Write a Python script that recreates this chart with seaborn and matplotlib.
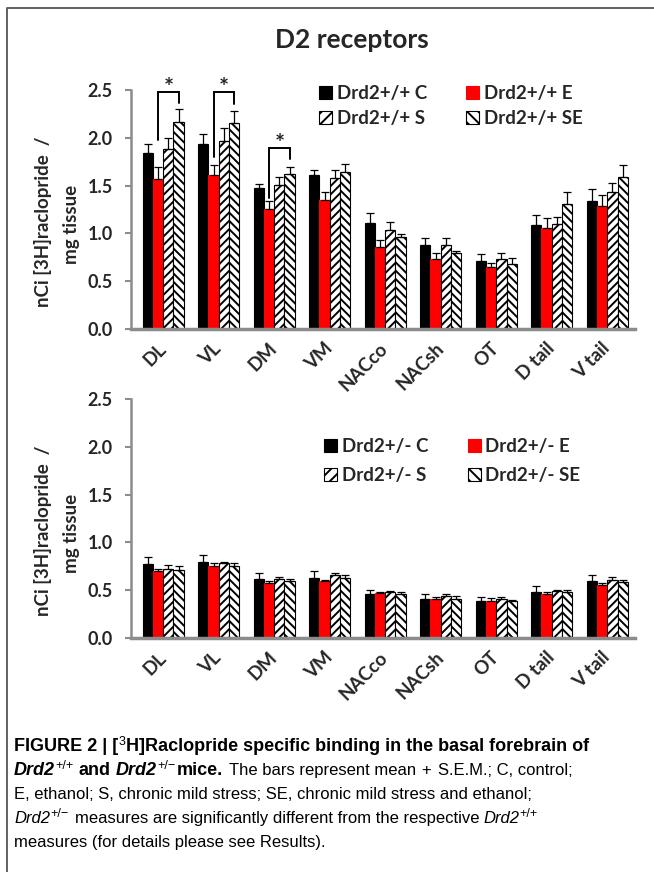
import matplotlib
matplotlib.use("Agg")
import matplotlib.pyplot as plt
from matplotlib.lines import Line2D
from matplotlib.patches import Patch
import seaborn as sns
import pandas as pd
import numpy as np

# ---------------- data ----------------
regions = ["DL", "VL", "DM", "VM", "NACco", "NACsh", "OT", "D tail", "V tail"]
groups = ["C", "E", "S", "SE"]

wt_C = [1.84, 1.94, 1.47, 1.61, 1.11, 0.88, 0.71, 1.09, 1.34]
wt_E = [1.57, 1.61, 1.26, 1.35, 0.86, 0.73, 0.65, 1.06, 1.29]
wt_S = [1.88, 1.97, 1.51, 1.58, 1.04, 0.88, 0.73, 1.10, 1.43]
wt_SE = [2.17, 2.16, 1.62, 1.64, 0.96, 0.80, 0.68, 1.31, 1.59]
wt_C_err = [0.10, 0.10, 0.05, 0.05, 0.10, 0.07, 0.07, 0.10, 0.12]
wt_E_err = [0.12, 0.11, 0.08, 0.08, 0.07, 0.06, 0.04, 0.10, 0.11]
wt_S_err = [0.12, 0.13, 0.08, 0.08, 0.08, 0.07, 0.06, 0.07, 0.10]
wt_SE_err = [0.13, 0.12, 0.07, 0.09, 0.03, 0.02, 0.06, 0.12, 0.13]

het_C = [0.77, 0.80, 0.62, 0.63, 0.46, 0.41, 0.39, 0.48, 0.60]
het_E = [0.70, 0.75, 0.58, 0.60, 0.47, 0.41, 0.39, 0.46, 0.55]
het_S = [0.72, 0.78, 0.62, 0.66, 0.48, 0.44, 0.41, 0.49, 0.61]
het_SE = [0.71, 0.75, 0.60, 0.63, 0.46, 0.41, 0.39, 0.48, 0.59]
het_C_err = [0.08, 0.07, 0.06, 0.07, 0.04, 0.05, 0.04, 0.06, 0.06]
het_E_err = [0.02, 0.03, 0.02, 0.01, 0.01, 0.02, 0.03, 0.02, 0.03]
het_S_err = [0.04, 0.02, 0.02, 0.02, 0.01, 0.02, 0.02, 0.01, 0.03]
het_SE_err = [0.04, 0.03, 0.02, 0.03, 0.02, 0.03, 0.01, 0.02, 0.02]

# significance brackets (top panel): region index, bracket height, left/right leg bottoms
sig_region = [0, 1, 2]
sig_top = [2.48, 2.48, 1.89]
sig_left_bottom = [1.98, 1.80, 1.37]
sig_right_bottom = [2.36, 2.35, 1.78]

yticks = [0.0, 0.5, 1.0, 1.5, 2.0, 2.5]
title = "D2 receptors"
ylabel_lines = ["nCi [3H]raclopride  /", "mg tissue"]
wt_labels = ["Drd2+/+ C", "Drd2+/+ E", "Drd2+/+ S", "Drd2+/+ SE"]
het_labels = ["Drd2+/- C", "Drd2+/- E", "Drd2+/- S", "Drd2+/- SE"]

# ---------------- style ----------------
sns.set_theme(style="white")
plt.rcParams["font.family"] = ["Lato", "DejaVu Sans"]
plt.rcParams["hatch.linewidth"] = 1.4
plt.rcParams["hatch.color"] = "black"

face = {"C": "black", "E": "#ff0000", "S": "white", "SE": "white"}
edge = {"C": "black", "E": "#ff0000", "S": "black", "SE": "black"}
hatch = {"C": None, "E": None, "S": "////", "SE": "\\\\\\\\"}

W, H = 654, 872
fig = plt.figure(figsize=(W / 100, H / 100), dpi=100)


def fx(px):
    return px / W


def fy(py):
    return 1 - py / H


def make_df(vals, errs):
    rows = []
    for g, v, e in zip(groups, vals, errs):
        for r, vv, ee in zip(regions, v, e):
            rows.append({"region": r, "group": g, "value": vv, "err": ee})
    return pd.DataFrame(rows)


def draw_panel(ax, vals, errs, labels, ylab_y):
    df = make_df(vals, errs)
    sns.barplot(data=df, x="region", y="value", hue="group", order=regions,
                hue_order=groups, errorbar=None, width=0.74, ax=ax,
                legend=False, saturation=1)
    centers = {}
    for g, cont in zip(groups, ax.containers):
        sub = df[df.group == g].set_index("region").loc[regions]
        xs = []
        for p in cont.patches:
            p.set_facecolor(face[g])
            p.set_edgecolor(edge[g])
            p.set_linewidth(0.8)
            if hatch[g]:
                p.set_hatch(hatch[g])
            xs.append(p.get_x() + p.get_width() / 2)
        xs = np.array(xs)
        centers[g] = xs
        ax.errorbar(xs, sub["value"].values,
                    yerr=[np.zeros(len(xs)), sub["err"].values],
                    fmt="none", ecolor="black", elinewidth=0.9, capsize=3,
                    capthick=0.9, zorder=1)
    ax.set_ylim(0, 2.5)
    ax.set_xlim(-0.58, 8.5)
    ax.set_yticks(yticks)
    ax.set_yticklabels([f"{t:.1f}" for t in yticks], fontsize=13,
                       fontweight="bold")
    ax.set_xticks(range(len(regions)))
    ax.set_xticklabels(regions, rotation=45, ha="right", va="center",
                       rotation_mode="anchor", fontsize=13.5, fontweight="bold")
    ax.tick_params(axis="x", length=0, pad=12)
    ax.tick_params(axis="y", length=4, width=1.5, color="#8c8c8c",
                   direction="out", pad=9, left=True)
    for s in ["top", "right"]:
        ax.spines[s].set_visible(False)
    ax.spines["left"].set_color("#8c8c8c")
    ax.spines["left"].set_linewidth(1.8)
    ax.spines["bottom"].set_color("#8c8c8c")
    ax.spines["bottom"].set_linewidth(2.5)
    ax.set_xlabel("")
    ax.set_ylabel("")
    fig.text(fx(43), fy(ylab_y), ylabel_lines[0], rotation=90, ha="center",
             va="center", fontsize=13.5, fontweight="bold")
    fig.text(fx(71), fy(ylab_y + 2), ylabel_lines[1], rotation=90, ha="center",
             va="center", fontsize=13.5, fontweight="bold")
    handles = [Patch(facecolor=face[g], edgecolor=edge[g],
                     hatch=("///" if g == "S" else "\\\\\\" if g == "SE" else None),
                     linewidth=0.8) for g in groups]
    order = [0, 2, 1, 3]
    return centers, [handles[i] for i in order], [labels[i] for i in order]


# top panel
ax1 = fig.add_axes([fx(131), fy(329), fx(635) - fx(131), fy(90) - fy(329)])
c1, h1, l1 = draw_panel(ax1, [wt_C, wt_E, wt_S, wt_SE],
                        [wt_C_err, wt_E_err, wt_S_err, wt_SE_err], wt_labels, 222)
fig.legend(h1, l1, ncol=2, frameon=False, loc="upper left",
           bbox_to_anchor=(fx(302), fy(68)),
           prop={"weight": "bold", "size": 13.5}, handlelength=0.7,
           handleheight=0.7, handletextpad=0.25, columnspacing=2.1,
           labelspacing=0.45)

for i, top, lb, rb in zip(sig_region, sig_top, sig_left_bottom, sig_right_bottom):
    xl = c1["E"][i]
    xr = c1["SE"][i]
    ax1.plot([xl, xl, xr, xr], [lb, top, top, rb], color="black", lw=1.4,
             clip_on=False, solid_joinstyle="miter")
    ax1.text((xl + xr) / 2, top + 0.04, "*", ha="center", va="center",
             fontsize=17, fontweight="bold", clip_on=False)

# bottom panel
ax2 = fig.add_axes([fx(131), fy(638), fx(635) - fx(131), fy(399) - fy(638)])
c2, h2, l2 = draw_panel(ax2, [het_C, het_E, het_S, het_SE],
                        [het_C_err, het_E_err, het_S_err, het_SE_err], het_labels, 531)
fig.legend(h2, l2, ncol=2, frameon=False, loc="upper left",
           bbox_to_anchor=(fx(307), fy(421)),
           prop={"weight": "bold", "size": 13.5}, handlelength=0.7,
           handleheight=0.7, handletextpad=0.25, columnspacing=2.1,
           labelspacing=0.65)

fig.text(fx(352), fy(40), title, ha="center", va="center", fontsize=19,
         fontweight="bold")

# frame lines
fig.add_artist(Line2D([fx(7), fx(7), fx(654)], [fy(872), fy(8), fy(8)],
                      color="#555555", lw=1.3))

# ---------------- caption ----------------
renderer = fig.canvas.get_renderer()
cap_font = ["Liberation Sans", "DejaVu Sans"]
size_reg = 12.0
size_bold = 13.0


def place_line(pieces, x0, ybase):
    x = x0
    for txt, weight, style, sup, gap in pieces:
        base = size_bold if (weight == "bold" and not sup) else size_reg
        size = size_reg * 0.75 if sup else base
        yb = ybase - (6.5 if sup else 0)
        t = fig.text(fx(x), fy(yb), txt, fontsize=size, fontweight=weight,
                     fontstyle=style, family=cap_font, ha="left",
                     va="baseline", color="black")
        bb = t.get_window_extent(renderer)
        x = x + bb.width + gap


SP = 4
place_line([("FIGURE 2 | [", "bold", "normal", False, 0),
            ("3", "normal", "normal", True, 0.5),
            ("H]Raclopride specific binding in the basal forebrain of", "bold",
             "normal", False, 0)], 14, 751)
place_line([("Drd2", "bold", "italic", False, 0.5),
            ("+/+", "normal", "normal", True, SP + 1),
            ("and", "bold", "normal", False, SP + 1),
            ("Drd2", "bold", "italic", False, 0.5),
            ("+/\u2212", "normal", "normal", True, 1),
            ("mice.", "bold", "normal", False, SP + 2),
            ("The bars represent mean", "normal", "normal", False, SP + 2),
            ("+", "normal", "normal", False, SP + 2),
            ("S.E.M.; C, control;", "normal", "normal", False, 0)], 14, 775)
place_line([("E, ethanol; S, chronic mild stress; SE, chronic mild stress and ethanol;",
             "normal", "normal", False, 0)], 14, 799)
place_line([("Drd2", "normal", "italic", False, 0.5),
            ("+/\u2212", "normal", "normal", True, SP + 2),
            ("measures are significantly different from the respective", "normal",
             "normal", False, SP),
            ("Drd2", "normal", "italic", False, 0.5),
            ("+/+", "normal", "normal", True, 0)], 14, 823)
place_line([("measures (for details please see Results).", "normal", "normal",
             False, 0)], 14, 847)

fig.savefig("out.png", dpi=100)
